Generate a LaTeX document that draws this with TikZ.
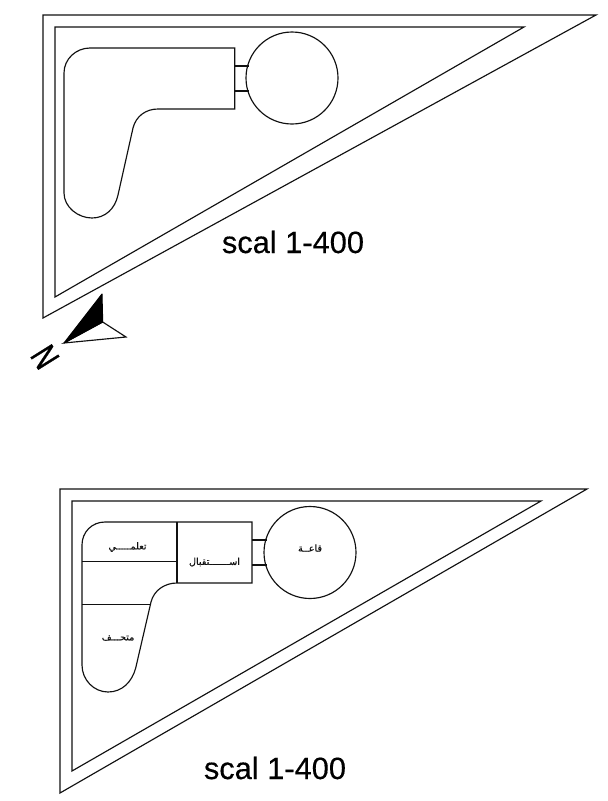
\documentclass[tikz,border=0pt]{standalone}
\usepackage{fontspec}
\setmainfont{Liberation Sans}
\newfontfamily\heavyfont[FakeBold=0.4]{Liberation Sans}
\newfontfamily\northfont[FakeBold=1.2]{Liberation Sans}
\newfontfamily\arabicfont[Script=Arabic,FakeBold=0.3]{DejaVu Sans}
\TeXXeTstate=1
\definecolor{ink}{HTML}{111111}
\tikzset{
  plan/.style={draw=ink,line width=1.15pt,line join=miter},
  scaletext/.style={font=\heavyfont\fontsize{30.8}{34}\selectfont,text=black,inner sep=0pt},
  roomlabel/.style={font=\arabicfont\fontsize{9.6}{11}\selectfont,text=ink,inner sep=0pt},
}
\begin{document}
\begin{tikzpicture}[x=1pt,y=-1pt]
\useasboundingbox (0,0) rectangle (608,801);
\fill[white] (0,0) rectangle (608,801);
% upper plan
\draw[plan] (43,15) -- (596,15) -- (43,318) -- cycle;
\draw[plan] (55,27) -- (524,27) -- (55,297) -- cycle;
\draw[plan] (90,48) -- (234.7,48) -- (234.7,109) -- (158,109)
  .. controls (146,109) and (136,116) .. (133,128) -- (118,195)
  .. controls (115,209) and (105,218) .. (92,218)
  .. controls (78,218) and (64,207) .. (64,193) -- (64,73)
  .. controls (64,59) and (76,48) .. (90,48) -- cycle;
\draw[plan] (292,78) circle[radius=46];
\draw[plan] (234.7,66) -- (249,66);
\draw[plan] (234.7,91) -- (249,91);
\node[scaletext] (scaleA) at (293,242) {scal 1-400};
% north arrow
\draw[plan,fill=white] (64,343) -- (102.7,322) -- (126,337) -- cycle;
\fill[black] (64,343) -- (102,294) -- (102.7,322) -- cycle;
\draw[black,line width=1pt,line join=round] (64,343) -- (102,294) -- (102.7,322) -- cycle;
\node[font=\northfont\fontsize{36}{38}\selectfont,inner sep=0pt,rotate=-58,xscale=.72] (north) at (45,357) {N};
% lower plan
\draw[plan] (60,489) -- (587,489) -- (60,793) -- cycle;
\draw[plan] (72,501) -- (541,501) -- (72,771) -- cycle;
\draw[plan] (105,522) -- (252,522) -- (252,583) -- (177,583)
  .. controls (165,583) and (154,590) .. (151,602) -- (135.7,668)
  .. controls (132,682) and (122,692) .. (108,692)
  .. controls (94,692) and (82,680) .. (82,665) -- (82,545)
  .. controls (82,532) and (92,522) .. (105,522) -- cycle;
\draw[plan] (177,522) -- (177,583);
\draw[plan] (82,561.7) -- (177,561.7);
\draw[plan] (82,604.7) -- (150.4,604.7);
\draw[plan] (310,552.5) circle[radius=46];
\draw[plan] (252,540) -- (266.5,540);
\draw[plan] (252,565) -- (266.5,565);
\node[roomlabel] (learn) at (127.5,547) {\beginR تعلمـــــي\endR};
\node[roomlabel] (recep) at (214.5,562) {\beginR اســـــــتقبال\endR};
\node[roomlabel] (museum) at (118,638) {\beginR متحـــف\endR};
\node[roomlabel] (hall) at (310,548) {\beginR قاعــة\endR};
\node[scaletext] (scaleB) at (275,768) {scal 1-400};
\end{tikzpicture}
\end{document}
